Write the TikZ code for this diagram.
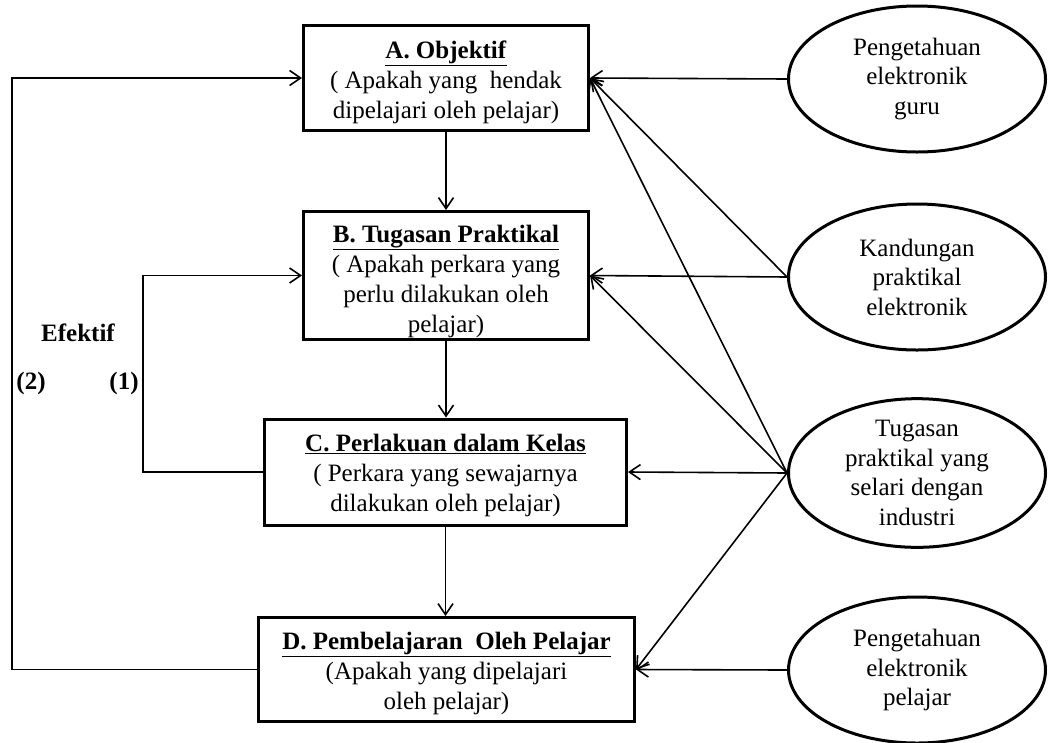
\documentclass[tikz,border=0pt]{standalone}
\usepackage{fontspec}
\setmainfont{Liberation Serif}
\usetikzlibrary{arrows.meta,shapes.geometric}
\newcommand{\toppush}[1]{\rule{0pt}{#1}}
\begin{document}
\begin{tikzpicture}[x=1pt,y=-1pt,
  box/.style={draw,line width=3pt,rectangle,align=center,inner sep=0pt,font=\fontsize{25}{30}\selectfont},
  oval/.style={draw,line width=3pt,ellipse,minimum width=257pt,minimum height=146pt,inner sep=0pt,align=center,font=\fontsize{25}{29.5}\selectfont},
  conn/.style={line width=1.6pt,-{Straight Barb[length=11pt,width=15pt]}},
  lbl/.style={font=\fontsize{25}{30}\selectfont\bfseries,inner sep=0pt}]
\useasboundingbox (0,0) rectangle (1048,742);
% boxes
\node[box,minimum width=285pt,minimum height=105pt] (A) at (446,78)
  {\toppush{26pt}\underline{\textbf{A. Objektif}}\\( Apakah yang\ \ hendak\\dipelajari oleh pelajar)};
\node[box,minimum width=285pt,minimum height=128pt] (B) at (446,275.5)
  {\toppush{29pt}\underline{\textbf{B. Tugasan Praktikal}}\\( Apakah perkara yang\\perlu dilakukan oleh\\pelajar)};
\node[box,minimum width=362pt,minimum height=106pt] (C) at (445.5,472)
  {\toppush{24pt}\underline{\textbf{C. Perlakuan dalam Kelas}}\\( Perkara yang sewajarnya\\dilakukan oleh pelajar)};
\node[box,minimum width=376pt,minimum height=104pt] (D) at (446.5,669.5)
  {\toppush{26pt}\underline{\textbf{D. Pembelajaran\ \ Oleh Pelajar}}\\(Apakah yang dipelajari\\oleh pelajar)};
% ellipses
\node[oval] (E1) at (917,79) {Pengetahuan\\elektronik\\guru};
\node[oval] (E2) at (917,277) {Kandungan\\praktikal\\elektronik};
\node[oval] (E3) at (917,473) {Tugasan\\praktikal yang\\selari dengan\\industri};
\node[oval] (E4) at (917,670) {Pengetahuan\\elektronik\\pelajar};
% labels
\node[lbl] (ef) at (78,333) {Efektif};
\node[lbl] (n2) at (31,383) {(2)};
\node[lbl] (n1) at (124,383) {(1)};
% vertical flow
\draw[conn] (A.south) -- (A.south |- B.north);
\draw[conn] (B.south) -- (B.south |- C.north);
\draw[conn] (C.south) -- (C.south |- D.north);
% feedback loops
\draw[conn] (D.west) -- ++(-245,0) |- (A.west);
\draw[conn] (C.west) -- ++(-120,0) |- (B.west);
% ellipse inputs
\draw[conn] (E1.west) -- (A.east);
\draw[conn] (E2.west) -- (A.east);
\draw[conn] (E2.west) -- (B.east);
\draw[conn] (E3.west) -- (A.east);
\draw[conn] (E3.west) -- (B.east);
\draw[conn] (E3.west) -- (C.east);
\draw[conn] (E3.west) -- (D.east);
\draw[conn] (E4.west) -- (D.east);
\end{tikzpicture}
\end{document}
